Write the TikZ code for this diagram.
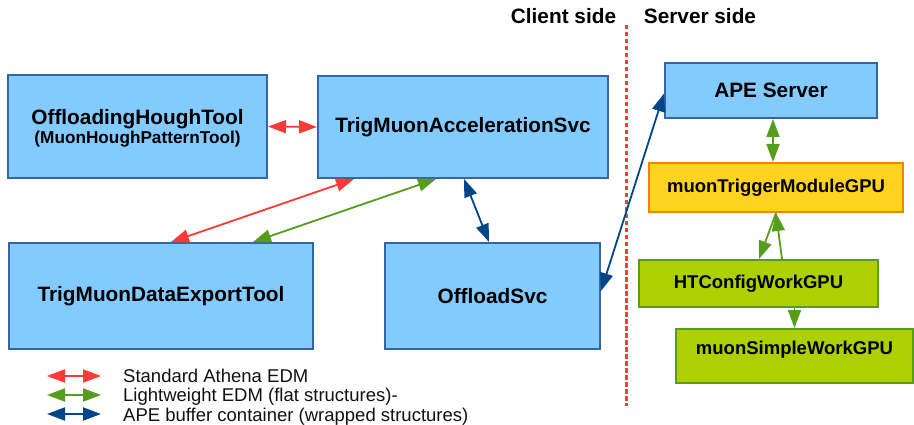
\documentclass[tikz,border=0pt]{standalone}
\usepackage{fontspec}
\setmainfont{Liberation Sans}
\usetikzlibrary{arrows.meta,calc}
\definecolor{boxfill}{HTML}{83CAFF}
\definecolor{boxdraw}{HTML}{3465A4}
\definecolor{orfill}{HTML}{FFD320}
\definecolor{ordraw}{HTML}{FF7F0A}
\definecolor{grfill}{HTML}{AECF00}
\definecolor{grdraw}{HTML}{579D1C}
\definecolor{redc}{HTML}{FF3838}
\definecolor{greenc}{HTML}{579D1C}
\definecolor{bluec}{HTML}{004586}
\definecolor{txt}{HTML}{111111}
\tikzset{
  bigtxt/.style={font=\fontsize{20.8}{25}\selectfont\bfseries},
  midtxt/.style={font=\fontsize{18.5}{22}\selectfont\bfseries},
  bluebox/.style={draw=boxdraw, fill=boxfill, line width=2pt, bigtxt, text=black, inner sep=0pt},
  orbox/.style={draw=ordraw, fill=orfill, line width=2pt, midtxt, text=black, inner sep=0pt},
  grbox/.style={draw=grdraw, fill=grfill, line width=2pt, midtxt, text=black, inner sep=0pt},
  conn/.style={line width=1.8pt, >={Triangle[length=18pt,width=13pt]}},
  redline/.style={conn, draw=redc, fill=redc},
  greenline/.style={conn, draw=greenc, fill=greenc},
  blueline/.style={conn, draw=bluec, fill=bluec},
  legarrow/.style={line width=2pt, >={Triangle[length=18pt,width=13pt]}},
  legtxt/.style={font=\fontsize{18.5}{22}\selectfont, text=txt, anchor=base west, inner sep=0pt},
  sidetxt/.style={font=\fontsize{20.8}{25}\selectfont\bfseries, anchor=base, inner sep=0pt},
  divider/.style={draw=redc, line width=3pt, dash pattern=on 4.5pt off 2.5pt}
}
\begin{document}
\begin{tikzpicture}[x=1pt,y=-1pt]
\useasboundingbox (0,0) rectangle (914,425);

% side labels and divider
\node[sidetxt] (client) at (563.5,24) {Client side};
\node[sidetxt] (server) at (700,24) {Server side};
\coordinate (dtop) at (626,25);
\coordinate (dbot) at (626,406);
\draw[divider] (dtop) -- (dbot);

% client boxes
\node[bluebox, minimum width=259pt, minimum height=103pt, align=center, text height=39pt, text depth=4pt] (oht) at (137.5,126.5)
  {OffloadingHoughTool\\[-6pt]{\fontsize{17.2}{20}\selectfont\bfseries (MuonHoughPatternTool)}};
\node[bluebox, minimum width=290pt, minimum height=102pt] (tmas) at (463,127) {TrigMuonAccelerationSvc};
\node[bluebox, minimum width=304pt, minimum height=106pt] (tmdet) at (161,296) {TrigMuonDataExportTool};
\node[bluebox, minimum width=215pt, minimum height=106pt] (ofs) at (492.5,296) {OffloadSvc};

% server boxes
\node[bluebox, minimum width=212pt, minimum height=55pt] (ape) at (771,90.5) {APE Server};
\node[orbox, minimum width=254pt, minimum height=49pt] (mtm) at (776,187.5) {muonTriggerModuleGPU};
\node[grbox, minimum width=239pt, minimum height=47pt] (ht) at (758.5,283.5) {HTConfigWorkGPU};
\node[grbox, minimum width=237pt, minimum height=54pt, text height=13.5pt, text depth=16.5pt] (ms) at (794.5,356) {muonSimpleWorkGPU};

% connectors
\draw[redline,<->] (oht.east) -- (tmas.west);
\draw[redline,<->] ([xshift=37pt]tmas.south west) -- ([xshift=163pt]tmdet.north west);
\draw[greenline,<->] ([xshift=119pt]tmas.south west) -- ([xshift=245pt]tmdet.north west);
\draw[blueline,<->] ([xshift=147pt]tmas.south west) -- ([xshift=105pt]ofs.north west);
\draw[blueline,<->] ([yshift=5pt]ofs.east) -- ([yshift=-3pt]ape.west);
\draw[greenline,<->] ([xshift=2pt]ape.south) -- ([xshift=-3pt]mtm.north);
\draw[greenline,->] (mtm.south) -- ([xshift=121pt]ht.north west);
\draw[greenline,->] ([xshift=144pt]ht.north west) -- (mtm.south);
\draw[greenline,->] (ms.north |- ht.south) -- (ms.north);

% legend
\coordinate (l1a) at (47,376); \coordinate (l1b) at (101,376);
\coordinate (l2a) at (47,395); \coordinate (l2b) at (101,395);
\coordinate (l3a) at (47,414); \coordinate (l3b) at (101,414);
\draw[legarrow, draw=redc, fill=redc, <->] (l1a) -- (l1b);
\draw[legarrow, draw=greenc, fill=greenc, <->] (l2a) -- (l2b);
\draw[legarrow, draw=bluec, fill=bluec, <->] (l3a) -- (l3b);
\node[legtxt] (leg1) at (123,382) {Standard Athena EDM};
\node[legtxt] (leg2) at (123,401.5) {Lightweight EDM (flat structures)-};
\node[legtxt] (leg3) at (123,421) {APE buffer container (wrapped structures)};
\end{tikzpicture}
\end{document}
